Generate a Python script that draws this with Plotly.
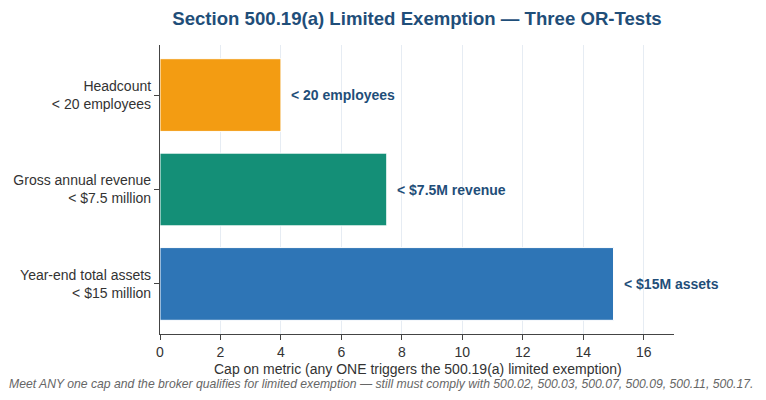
import plotly.graph_objects as go

categories = ["Year-end total assets<br>< $15 million",
              "Gross annual revenue<br>< $7.5 million",
              "Headcount<br>< 20 employees"]
values = [15, 7.5, 4]
bar_labels = ["< $15M assets", "< $7.5M revenue", "< 20 employees"]
colors = ["#2E75B6", "#148F77", "#F39C12"]
x_ticks = [0, 2, 4, 6, 8, 10, 12, 14, 16]

FONT = "Liberation Sans, Arial, sans-serif"
DARK = "#1F4E79"

W, H = 766, 400
L, R, T, B = 160, 92, 45, 66
pw, ph = W - L - R, H - T - B

def px_x(x):
    return (x - L) / pw

def px_y(y):
    return (H - B - y) / ph

fig = go.Figure()
fig.add_trace(go.Bar(
    y=categories, x=values, orientation="h",
    marker=dict(color=colors, line=dict(color="white", width=1)),
    hoverinfo="skip", showlegend=False,
))

annotations = []
for c, v, t in zip(categories, values, bar_labels):
    annotations.append(dict(x=v, y=c, xref="x", yref="y", text=f"<b>{t}</b>",
                            showarrow=False, xanchor="left", xshift=8,
                            font=dict(family=FONT, size=14, color=DARK)))
annotations.append(dict(x=px_x(418), y=px_y(369), xref="paper", yref="paper",
                        text="Cap on metric (any ONE triggers the 500.19(a) limited exemption)",
                        showarrow=False, xanchor="center", yanchor="middle",
                        font=dict(family=FONT, size=14, color="#333333")))
annotations.append(dict(x=px_x(381), y=px_y(384), xref="paper", yref="paper",
                        text="<i>Meet ANY one cap and the broker qualifies for limited exemption — still must comply with 500.02, 500.03, 500.07, 500.09, 500.11, 500.17.</i>",
                        showarrow=False, xanchor="center", yanchor="middle",
                        font=dict(family=FONT, size=12.2, color="#666666")))

fig.update_layout(
    width=W, height=H,
    margin=dict(l=L, r=R, t=T, b=B),
    paper_bgcolor="white", plot_bgcolor="white",
    bargap=0.23,
    title=dict(text="<b>Section 500.19(a) Limited Exemption — Three OR-Tests</b>",
               x=(L + pw / 2) / W, xanchor="center", y=1 - 18 / H, yanchor="middle",
               font=dict(family=FONT, size=18.6, color=DARK)),
    xaxis=dict(range=[0, 17], tickvals=x_ticks, showgrid=True, gridcolor="#E6ECF3",
               gridwidth=1, showline=True, linecolor="#444444", linewidth=1.2,
               ticks="outside", ticklen=5, tickcolor="#444444", zeroline=False,
               tickfont=dict(family=FONT, size=14, color="#333333")),
    yaxis=dict(range=[-0.53, 2.53], showgrid=False, showline=True, linecolor="#444444",
               linewidth=1.2, ticks="outside", ticklen=5, tickcolor="#444444",
               tickfont=dict(family=FONT, size=14, color="#333333")),
    annotations=annotations,
)

fig.write_html("out.html")
